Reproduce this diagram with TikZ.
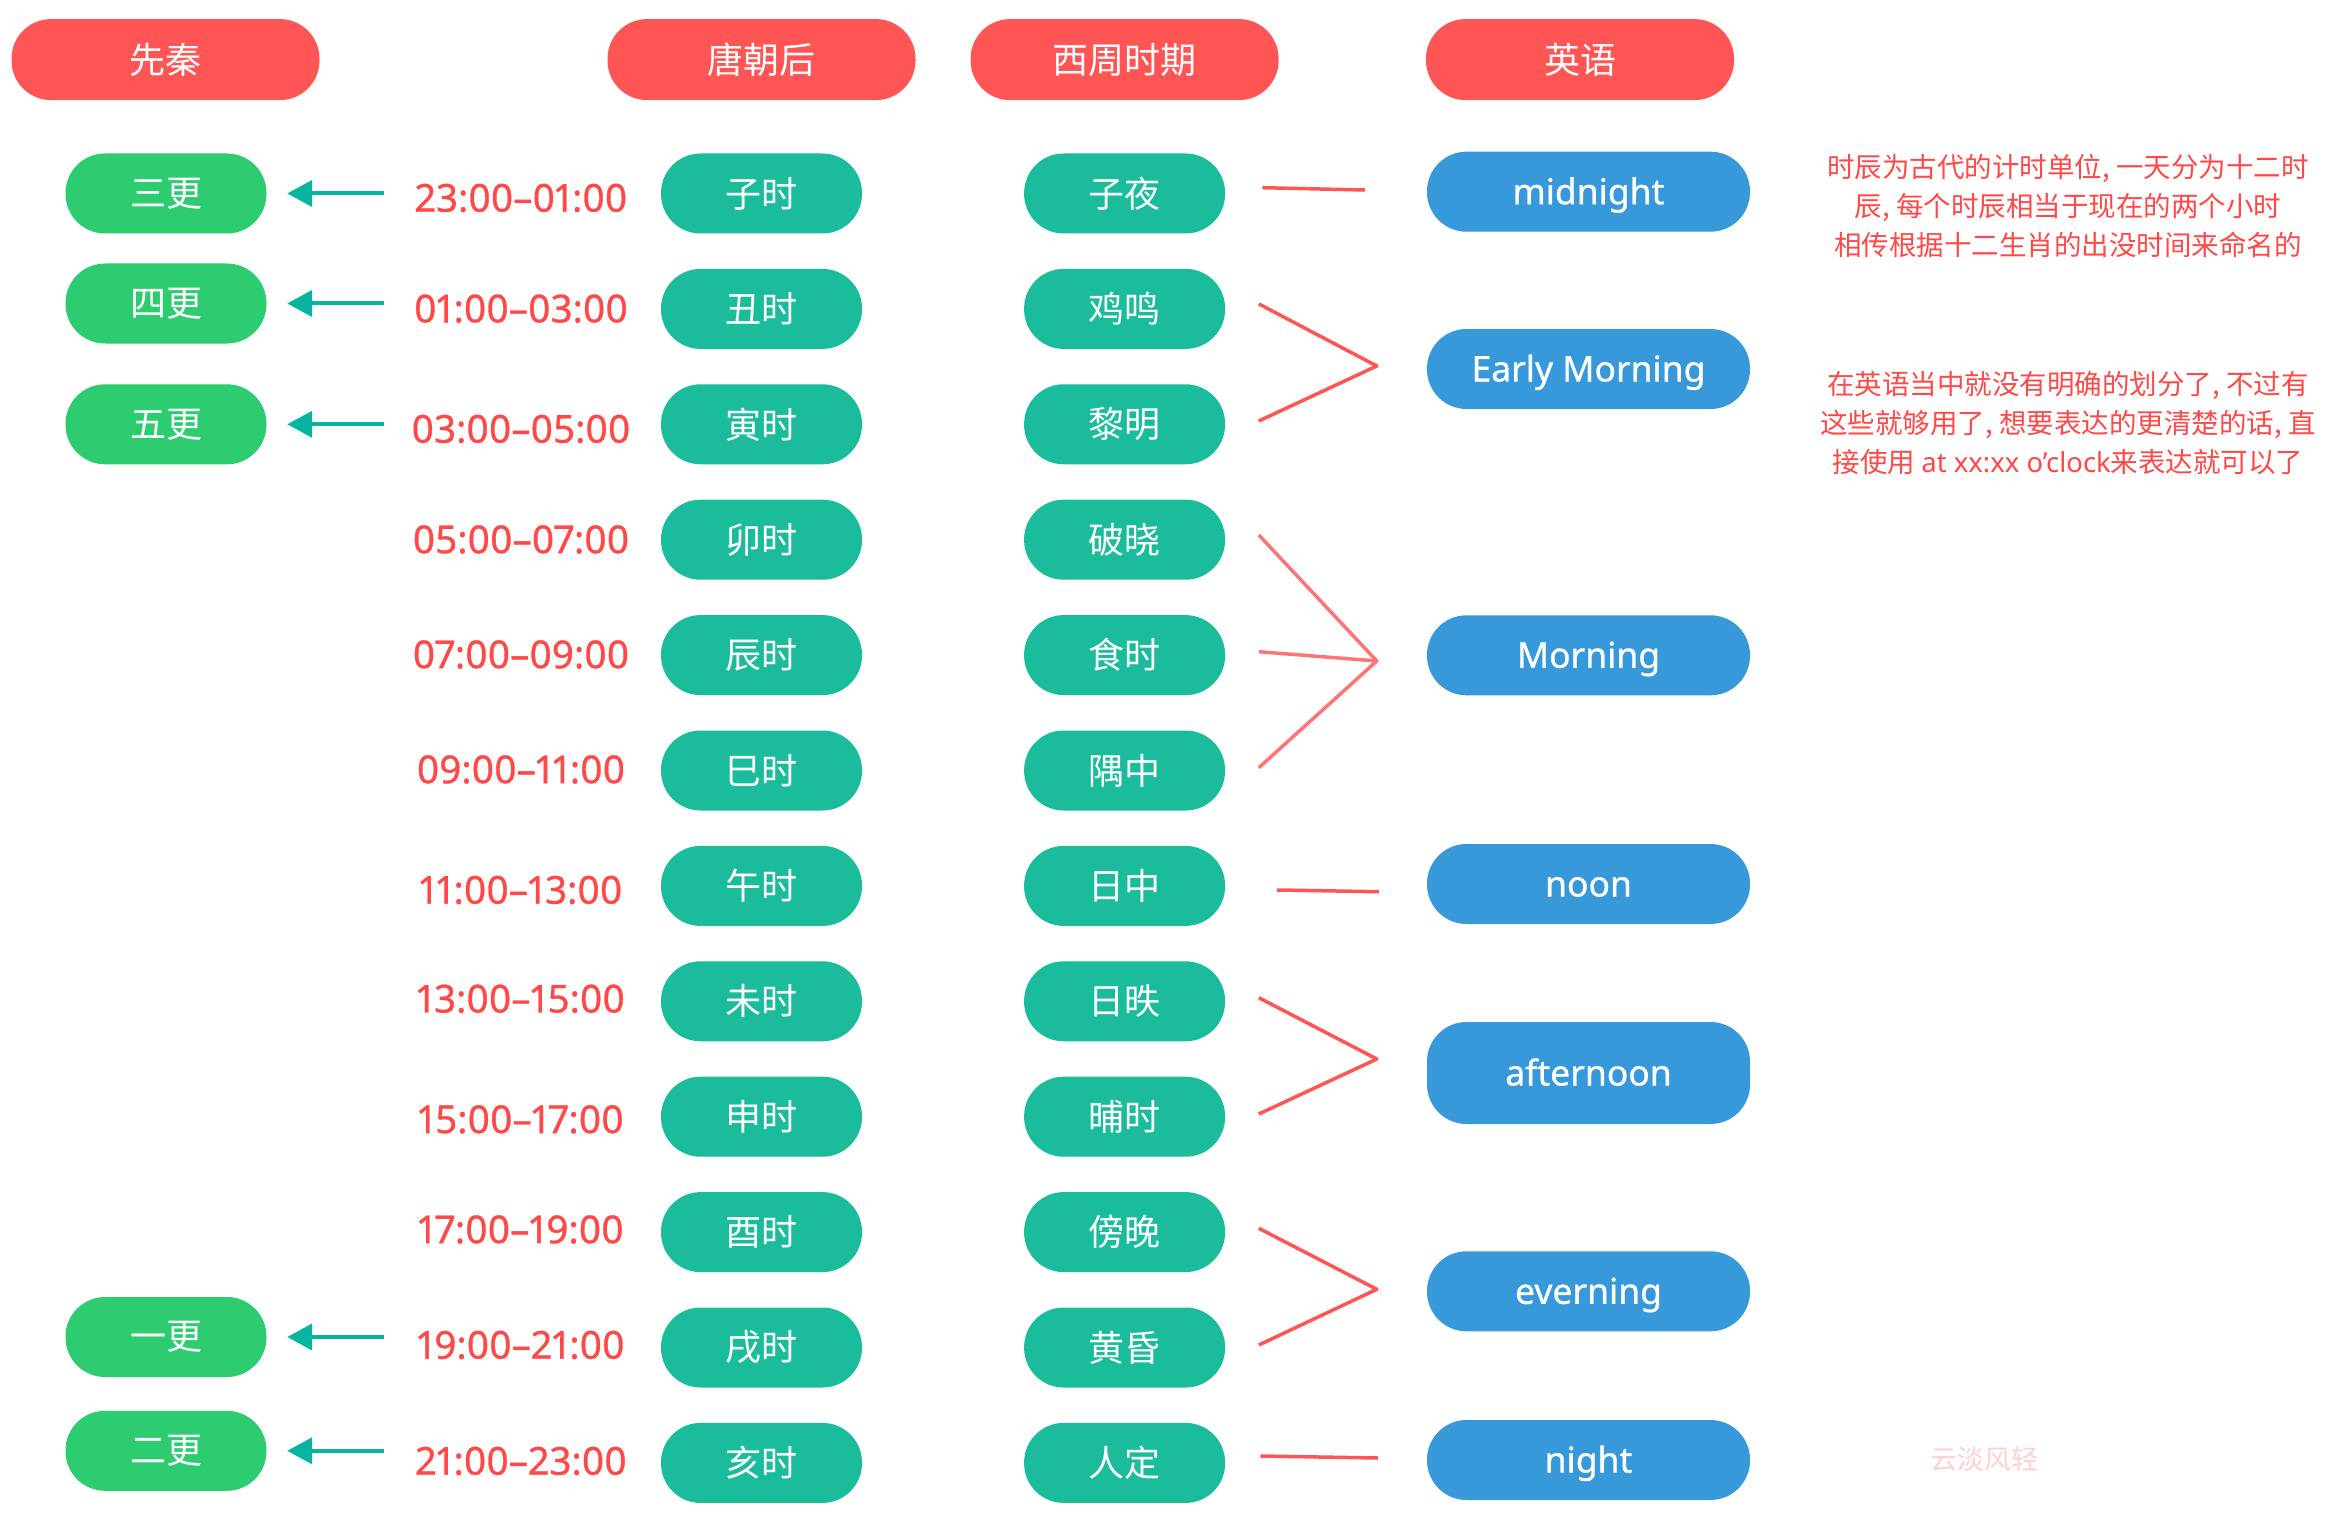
\documentclass[tikz,border=0pt]{standalone}
\usepackage{fontspec}
\setmainfont{Noto Sans CJK SC}
\newfontfamily\latinf[Numbers=Proportional,FakeBold=0.8]{Noto Sans}
\newfontfamily\latinn[Numbers=Proportional]{Noto Sans}
\usetikzlibrary{arrows.meta,calc}
\definecolor{hdrc}{HTML}{FF5555}
\definecolor{gengc}{HTML}{2ECC71}
\definecolor{tealc}{HTML}{1ABC9C}
\definecolor{engc}{HTML}{3899DA}
\definecolor{arrc}{HTML}{05B5A0}
\definecolor{tred}{HTML}{FF4848}
\definecolor{lred}{HTML}{FF5555}
\definecolor{lredl}{HTML}{FF7575}
\definecolor{wmark}{HTML}{FFD0D0}
\begin{document}
\begin{tikzpicture}[x=1pt,y=-1pt,
  pill/.style={rounded corners=39.5pt, minimum height=80pt, inner sep=0pt, text=white,
    font=\fontsize{36}{40}\selectfont},
  hdrbox/.style={pill, fill=hdrc, minimum width=308pt, minimum height=81pt},
  gengbox/.style={pill, fill=gengc, minimum width=201pt},
  tealbox/.style={pill, fill=tealc, minimum width=201pt},
  engbox/.style={pill, fill=engc, minimum width=323pt, text height=25pt, text depth=0pt,
    font=\latinf\fontsize{35.5}{40}\selectfont},
  timelbl/.style={text=tred, inner sep=0pt, font=\latinf\fontsize{38.5}{40}\selectfont},
  garrow/.style={draw=arrc, line width=4pt, -{Triangle[length=25pt,width=26pt]}},
  redline/.style={draw=lred, line width=3.5pt, line join=round},
  redlinel/.style={draw=lredl, line width=3.5pt, line join=round},
  note/.style={text=tred, align=center, inner sep=0pt, font=\fontsize{27.5}{39}\selectfont},
]
\useasboundingbox[fill=white] (0,0) rectangle (2334,1514);

% headers
\node[hdrbox] (h1) at (165.5,59.6) {先秦};
\node[hdrbox] (h2) at (761.5,59.6) {唐朝后};
\node[hdrbox] (h3) at (1124.6,59.6) {西周时期};
\node[hdrbox] (h4) at (1580,59.6) {英语};

% geng boxes
\node[gengbox] (g3) at (166,193.5) {三更};
\node[gengbox] (g4) at (166,303.5) {四更};
\node[gengbox] (g5) at (166,424.3) {五更};
\node[gengbox] (g1) at (166,1337) {一更};
\node[gengbox] (g2) at (166,1450.8) {二更};

% shichen and xizhou boxes
\foreach \i/\y/\a/\b in {0/193.5/子时/子夜, 1/308.9/丑时/鸡鸣, 2/424.3/寅时/黎明,
  3/539.7/卯时/破晓, 4/655.1/辰时/食时, 5/770.5/巳时/隅中, 6/885.9/午时/日中,
  7/1001.3/未时/日昳, 8/1116.7/申时/晡时, 9/1232.1/酉时/傍晚, 10/1347.5/戌时/黄昏,
  11/1462.9/亥时/人定} {
  \node[tealbox] (s\i) at (761.5,\y) {\a};
  \node[tealbox] (x\i) at (1124.6,\y) {\b};
}

% time labels
\foreach \i/\y/\t in {0/198/23:00–01:00, 1/308.7/01:00–03:00, 2/429/03:00–05:00,
  3/539.5/05:00–07:00, 4/654.5/07:00–09:00, 5/769.5/09:00–11:00, 6/890/11:00–13:00,
  7/998.8/13:00–15:00, 8/1119.4/15:00–17:00, 9/1229.5/17:00–19:00,
  10/1345/19:00–21:00, 11/1461/21:00–23:00} {
  \node[timelbl] (t\i) at (521,\y) {\t};
}

% english boxes
\node[engbox] (mid) at (1588.5,191.7) {midnight};
\node[engbox] (em) at (1588.5,369) {Early Morning};
\node[engbox] (mo) at (1588.5,655.3) {Morning};
\node[engbox] (no) at (1588.5,884) {noon};
\node[engbox, minimum height=102pt] (af) at (1588.5,1073) {afternoon};
\node[engbox] (ev) at (1588.5,1291.3) {everning};
\node[engbox] (ni) at (1588.5,1460) {night};

% arrows to geng
\foreach \g in {g3,g4,g5,g1,g2} {
  \draw[garrow] ($(\g.east)+(117.5,0)$) -- ($(\g.east)+(20.5,0)$);
}

% apex coordinates
\coordinate (aEM) at (1376.8,366);
\coordinate (aMo) at (1376.8,661);
\coordinate (aAf) at (1376.8,1059);
\coordinate (aEv) at (1376.8,1289.3);

% red connectors
\draw[redline] ($(x0.east)+(37,-5.8)$) -- ($(mid.west)+(-62,-1.7)$);
\draw[redline] ($(x1.east)+(33.5,-5)$) -- (aEM) -- ($(x2.east)+(33.5,-3.3)$);
\draw[redlinel] ($(x3.east)+(33.5,-4.7)$) -- (aMo) -- ($(x5.east)+(33.5,-2.8)$);
\draw[redlinel] ($(x4.east)+(33.5,-3.4)$) -- (aMo);
\draw[redline] ($(x6.east)+(51.5,4.1)$) -- ($(no.west)+(-48,7.7)$);
\draw[redline] ($(x7.east)+(33.5,-3.6)$) -- (aAf) -- ($(x8.east)+(33.5,-2.7)$);
\draw[redline] ($(x9.east)+(33.5,-3.8)$) -- (aEv) -- ($(x10.east)+(33.5,-2.5)$);
\draw[redline] ($(x11.east)+(35,-6.9)$) -- ($(ni.west)+(-48.7,-2)$);

% notes
\node[note] (n1) at (2068,205.5) {时辰为古代的计时单位, 一天分为十二时\\辰, 每个时辰相当于现在的两个小时\\相传根据十二生肖的出没时间来命名的};
\node[note] (n2) at (2068,423.3) {在英语当中就没有明确的划分了, 不过有\\这些就够用了, 想要表达的更清楚的话, 直\\接使用 {\latinn at xx:xx o’clock}来表达就可以了};

% watermark
\node[text=wmark, inner sep=0pt, font=\fontsize{27}{30}\selectfont] (wm) at (1984,1459) {云淡风轻};
\end{tikzpicture}
\end{document}
